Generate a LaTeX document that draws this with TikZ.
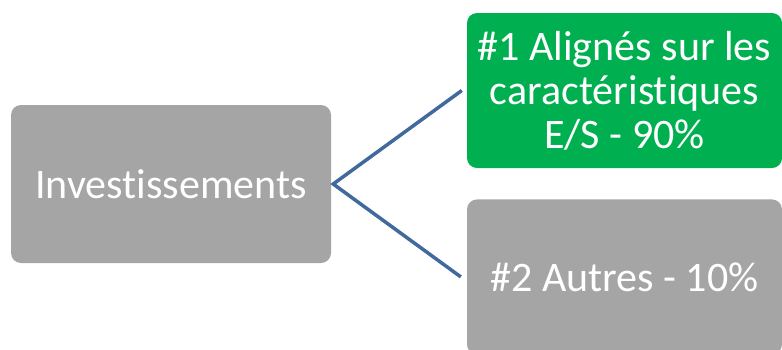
\documentclass[tikz,border=0pt]{standalone}
\usepackage{fontspec}
\setmainfont{Carlito}[Ligatures=NoCommon]
\usetikzlibrary{positioning}
\definecolor{boxgray}{HTML}{A5A5A5}
\definecolor{boxgreen}{HTML}{00B050}
\definecolor{linkblue}{HTML}{41699B}
\tikzstyle{box} = [rounded corners=10pt, text=white, align=center, inner sep=0pt,
  font=\fontsize{42}{44}\selectfont]
\tikzstyle{edge} = [draw, line width=3.5pt, linkblue]

\begin{document}
\begin{tikzpicture}[x=1pt, y=-1pt]
   \useasboundingbox (0,0) rectangle (782,349);
   \clip (0,0) rectangle (782,349);
   \node[box, fill=boxgray, minimum width=320pt, minimum height=158pt] (invest) at (171,184) {Investissements};
   \node[box, fill=boxgreen, minimum width=315pt, minimum height=155pt] (aligned) at (624.5,90.5) {\#1 Alignés sur les\\caractéristiques\\E/S - 90\%};
   \node[box, fill=boxgray, minimum width=315pt, minimum height=155pt, below=31pt of aligned] (other) {\#2 Autres - 10\%};

   \path[edge] ([xshift=-5pt]aligned.west) -- ([xshift=2pt]invest.east) -- ([xshift=-6pt]other.west);
\end{tikzpicture}
\end{document}
